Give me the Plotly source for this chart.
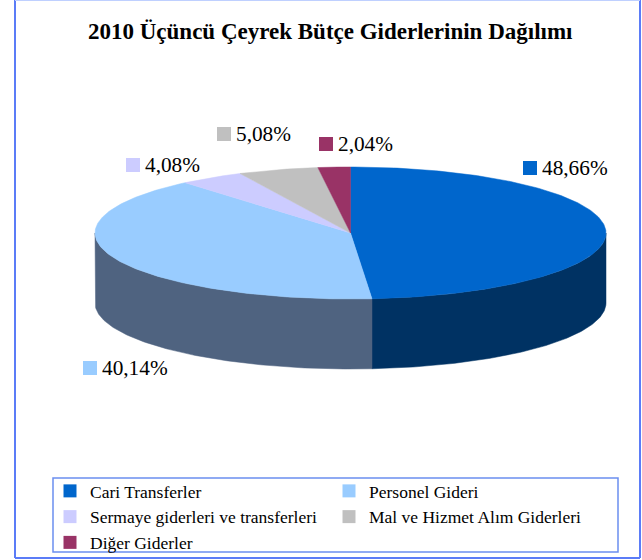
import numpy as np
import plotly.graph_objects as go

# ---- data ----
categories = ["Cari Transferler", "Personel Gideri", "Sermaye giderleri ve transferleri",
              "Mal ve Hizmet Alım Giderleri", "Diğer Giderler"]
shares = [48.66, 40.14, 4.08, 5.08, 2.04]
top_colors = ["#0066CC", "#99CCFF", "#CCCCFF", "#C0C0C0", "#993366"]
side_colors = ["#003263", "#4F6380", "#66667F", "#606060", "#4C1933"]

# ---- layout / geometry (pixels) ----
W, H = 642, 560
CX, CY, RX, RY, DEPTH = 350.5, 233, 255.5, 66, 70
FONT = "Liberation Serif"
# label text anchors (left edge of text, vertical middle), per slice
LABEL_POS = [(541, 168), (101, 368), (144, 165), (235, 134), (337, 144)]

total = sum(shares)
bounds = np.concatenate([[0], np.cumsum(shares)]) / total * 360.0


def pt(a_deg, dy=0.0):
    a = np.radians(a_deg)
    return CX + RX * np.sin(a), CY - RY * np.cos(a) + dy


fig = go.Figure()

# side walls (front half: 90..270 deg, clockwise from top)
for i in range(len(shares)):
    a1, a2 = max(bounds[i], 90), min(bounds[i + 1], 270)
    if a2 <= a1:
        continue
    ang = np.linspace(a1, a2, 120)
    xt, yt = pt(ang)
    xb, yb = pt(ang[::-1], DEPTH)
    xs = np.concatenate([xt, xb, xt[:1]])
    ys = np.concatenate([yt, yb, yt[:1]])
    fig.add_trace(go.Scatter(x=xs, y=ys, mode="lines", fill="toself",
                             fillcolor=side_colors[i],
                             line=dict(color=side_colors[i], width=0.5),
                             hoverinfo="skip", showlegend=False))

# top faces
for i in range(len(shares)):
    ang = np.linspace(bounds[i], bounds[i + 1], 200)
    xa, ya = pt(ang)
    xs = np.concatenate([[CX], xa, [CX]])
    ys = np.concatenate([[CY], ya, [CY]])
    fig.add_trace(go.Scatter(x=xs, y=ys, mode="lines", fill="toself",
                             fillcolor=top_colors[i],
                             line=dict(color=top_colors[i], width=0.5),
                             name=categories[i], showlegend=False,
                             hovertemplate=f"{categories[i]}: {shares[i]:.2f}%<extra></extra>"))

# legend entries
for cat, col in zip(categories, top_colors):
    fig.add_trace(go.Scatter(x=[None], y=[None], mode="markers", name=cat,
                             marker=dict(symbol="square", size=13, color=col)))

annotations = [dict(text="<b>2010 Üçüncü Çeyrek Bütçe Giderlerinin Dağılımı</b>",
                    x=330, y=31, xref="x", yref="y", showarrow=False,
                    font=dict(family=FONT, size=23, color="black"))]
frame_col = "#5B7CF7"
shapes = [
    dict(type="line", xref="x", yref="y", x0=15, y0=0, x1=15, y1=558,
         line=dict(color=frame_col, width=2)),
    dict(type="line", xref="x", yref="y", x0=640, y0=0, x1=640, y1=558,
         line=dict(color=frame_col, width=2)),
    dict(type="line", xref="x", yref="y", x0=15, y0=558, x1=640, y1=558,
         line=dict(color=frame_col, width=2)),
    dict(type="line", xref="x", yref="y", x0=15, y0=0.5, x1=640, y1=0.5,
         line=dict(color="#BFD0FF", width=1)),
    dict(type="rect", xref="x", yref="y", x0=53, y0=478, x1=618, y1=552,
         line=dict(color="#6B8EF0", width=1.5)),
]
for i, (lx, ly) in enumerate(LABEL_POS):
    txt = f"{shares[i]:.2f}%".replace(".", ",")
    annotations.append(dict(text=txt, x=lx - 1, y=ly, xref="x", yref="y",
                            xanchor="left", yanchor="middle", showarrow=False,
                            font=dict(family=FONT, size=21.3, color="black")))
    shapes.append(dict(type="rect", xref="x", yref="y", x0=lx - 18, x1=lx - 4,
                       y0=ly - 7, y1=ly + 7, fillcolor=top_colors[i],
                       line=dict(width=0)))

fig.update_layout(
    width=W, height=H, margin=dict(l=0, r=0, t=0, b=0, autoexpand=False),
    paper_bgcolor="white", plot_bgcolor="white",
    xaxis=dict(range=[0, W], visible=False, fixedrange=True),
    yaxis=dict(range=[H, 0], visible=False, fixedrange=True),
    annotations=annotations, shapes=shapes,
    showlegend=True,
    legend=dict(orientation="h", x=50 / W, y=1 - 473 / H, xanchor="left", yanchor="top",
                entrywidth=234, entrywidthmode="pixels", itemwidth=30,
                font=dict(family=FONT, size=17.5, color="black"),
                bgcolor="rgba(0,0,0,0)", tracegroupgap=0),
)

fig.write_html("out.html", config={"displayModeBar": False},
               post_script="document.body.style.margin='0px';")
